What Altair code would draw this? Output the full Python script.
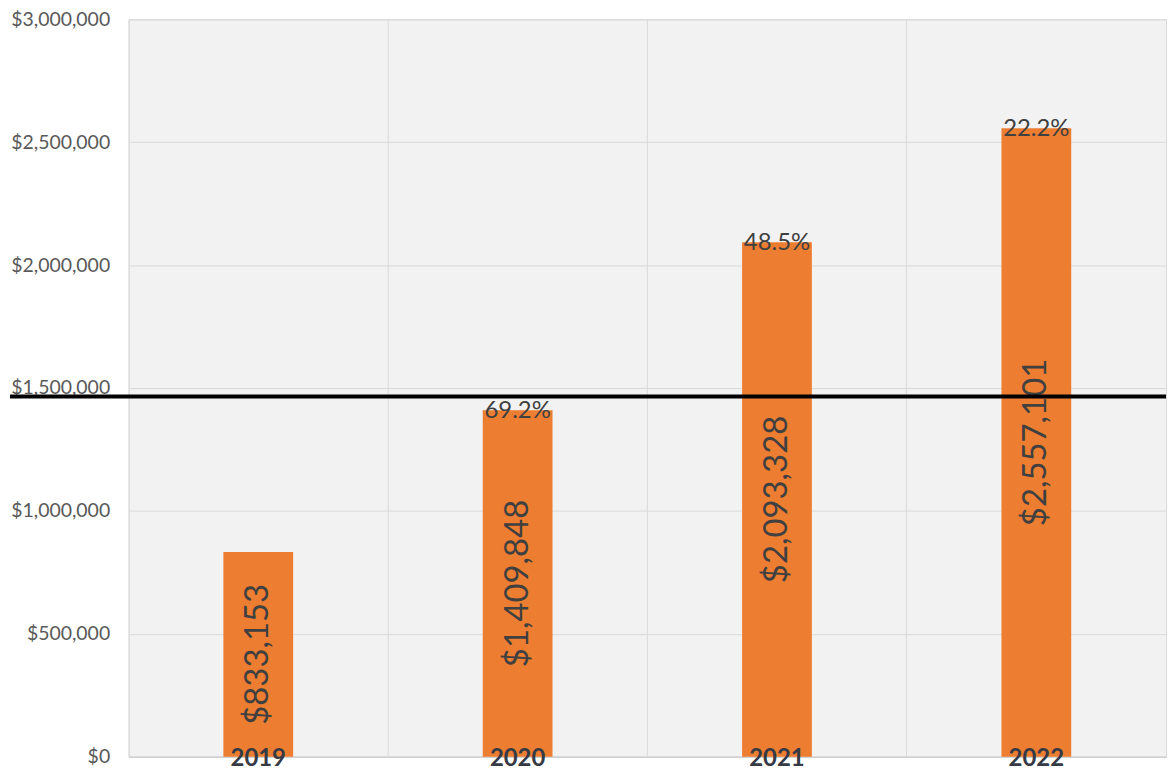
import altair as alt
import pandas as pd

years = ["2019", "2020", "2021", "2022"]
revenue = [833153, 1409848, 2093328, 2557101]
growth = ["", "69.2%", "48.5%", "22.2%"]
value_labels = ["$833,153", "$1,409,848", "$2,093,328", "$2,557,101"]
y_ticks = [0, 500000, 1000000, 1500000, 2000000, 2500000, 3000000]
marker_value = 1465000

df = pd.DataFrame({"year": years, "revenue": revenue, "growth": growth, "vlabel": value_labels})

W, H = 1041, 740
FONT = "Lato"

x = alt.X("year:N", sort=years,
          scale=alt.Scale(paddingInner=0, paddingOuter=0),
          axis=alt.Axis(title=None, labels=False, ticks=False, grid=True, bandPosition=0,
                        gridColor="#d9d9d9", domainColor="#d0d0d0", domainWidth=1.5))
y = alt.Y("revenue:Q", scale=alt.Scale(domain=[0, 3000000], nice=False),
          axis=alt.Axis(title=None, format="$,.0f", values=y_ticks, labelOverlap=False,
                        domain=False, ticks=False, labelPadding=19, labelFontSize=19.5,
                        labelColor="#595959", labelFont=FONT, gridColor="#d9d9d9"))

base = alt.Chart(df)

bars = base.mark_bar(color="#ED7D31", size=70).encode(x=x, y=y)

vals = base.transform_calculate(mid="datum.revenue / 2").mark_text(
    angle=270, fontSize=33, font=FONT, color="#404040", baseline="middle", align="center"
).encode(x=alt.X("year:N", sort=years), y=alt.Y("mid:Q"), text="vlabel:N")

pct = base.mark_text(fontSize=24, font=FONT, color="#404040", baseline="middle", align="center", dy=1).encode(
    x=alt.X("year:N", sort=years), y=alt.Y("revenue:Q"), text="growth:N")

yrs = base.mark_text(fontSize=24, font=FONT, fontWeight="bold", color="#353a45", baseline="middle",
                     align="center", dy=2).encode(
    x=alt.X("year:N", sort=years), y=alt.datum(0), text="year:N")

rule_df = pd.DataFrame({"v": [marker_value]})
rule = alt.Chart(rule_df).mark_rule(color="#000000", strokeWidth=4).encode(
    y=alt.Y("v:Q"), x=alt.value(-119), x2=alt.value(W))

chart = alt.layer(bars, vals, pct, yrs, rule).properties(
    width=W, height=H,
    padding={"left": 0, "top": 0, "right": 0, "bottom": 0},
    background="white",
).configure_view(stroke="#d9d9d9", fill="#f2f2f2")

chart.save("out.html", embed_options={"renderer": "svg", "actions": False})
